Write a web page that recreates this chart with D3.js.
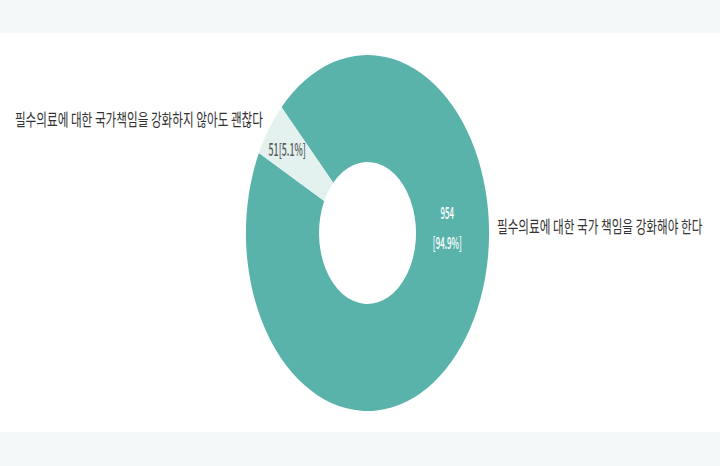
<!DOCTYPE html>
<html><head><meta charset="utf-8">
<script src="https://cdn.jsdelivr.net/npm/d3@7"></script>
<style>
html,body{margin:0;padding:0;background:#fff;}
svg{display:block;}
text{font-family:"Noto Sans CJK KR","Noto Sans",sans-serif;}
</style></head>
<body>
<svg id="chart" width="720" height="466"></svg>
<script>
// data
const categories = ["필수의료에 대한 국가 책임을 강화해야 한다", "필수의료에 대한 국가책임을 강화하지 않아도 괜찮다"];
const values = [954, 51];
const percents = ["94.9%", "5.1%"];
const colors = ["#5ab3ab", "#e3f1ef"];

const W = 720, H = 466;
const svg = d3.select("#chart");

// background bands
svg.append("rect").attr("x",0).attr("y",0).attr("width",W).attr("height",33).attr("fill","#f3f9f8");
svg.append("rect").attr("x",0).attr("y",432).attr("width",W).attr("height",H-432).attr("fill","#f3f9f8");

const cx = 367.5, cy = 233, sx = 0.683;
const R = 178, r = 71;

const pie = d3.pie().sort(null).value(d => d)
  .startAngle(-Math.PI/4).endAngle(7*Math.PI/4);
const arcs = pie(values);
const arc = d3.arc().innerRadius(r).outerRadius(R);

const g = svg.append("g").attr("transform", `translate(${cx},${cy}) scale(${sx},1)`);
g.selectAll("path").data(arcs).enter().append("path")
  .attr("d", arc)
  .attr("fill", (d,i) => colors[i]);

function toScreen(p){ return [cx + p[0]*sx, cy + p[1]]; }

// big slice label
const bigLabelArc = d3.arc().innerRadius(117).outerRadius(117);
const a0 = 87 * Math.PI/180;
const p0 = toScreen(bigLabelArc.centroid({startAngle:a0, endAngle:a0}));
const t0 = svg.append("g").attr("transform", `translate(${p0[0]},${p0[1]}) scale(0.48,1)`);
t0.append("text").attr("text-anchor","middle").attr("y",-15).attr("dominant-baseline","central")
  .attr("fill","#ffffff").attr("font-size",16.5).attr("font-weight",500).text(values[0]);
t0.append("text").attr("text-anchor","middle").attr("y",15).attr("dominant-baseline","central")
  .attr("fill","#ffffff").attr("font-size",16.5).attr("font-weight",500).text(`[${percents[0]}]`);

// small slice label
const smallLabelArc = d3.arc().innerRadius(145).outerRadius(145);
const p1 = toScreen(smallLabelArc.centroid(arcs[1]));
svg.append("g").attr("transform", `translate(${p1[0]},${p1[1]}) scale(0.52,1)`)
  .append("text").attr("text-anchor","middle").attr("dominant-baseline","central")
  .attr("fill","#5a5a5a").attr("font-size",17).attr("font-weight",500)
  .text(`${values[1]}[${percents[1]}]`);

// category labels
svg.append("g").attr("transform", `translate(497,225) scale(0.684,1)`)
  .append("text").attr("text-anchor","start").attr("dominant-baseline","central")
  .attr("fill","#333333").attr("font-size",17).text(categories[0]);
svg.append("g").attr("transform", `translate(263,118) scale(0.684,1)`)
  .append("text").attr("text-anchor","end").attr("dominant-baseline","central")
  .attr("fill","#333333").attr("font-size",17).text(categories[1]);
</script>
</body></html>
